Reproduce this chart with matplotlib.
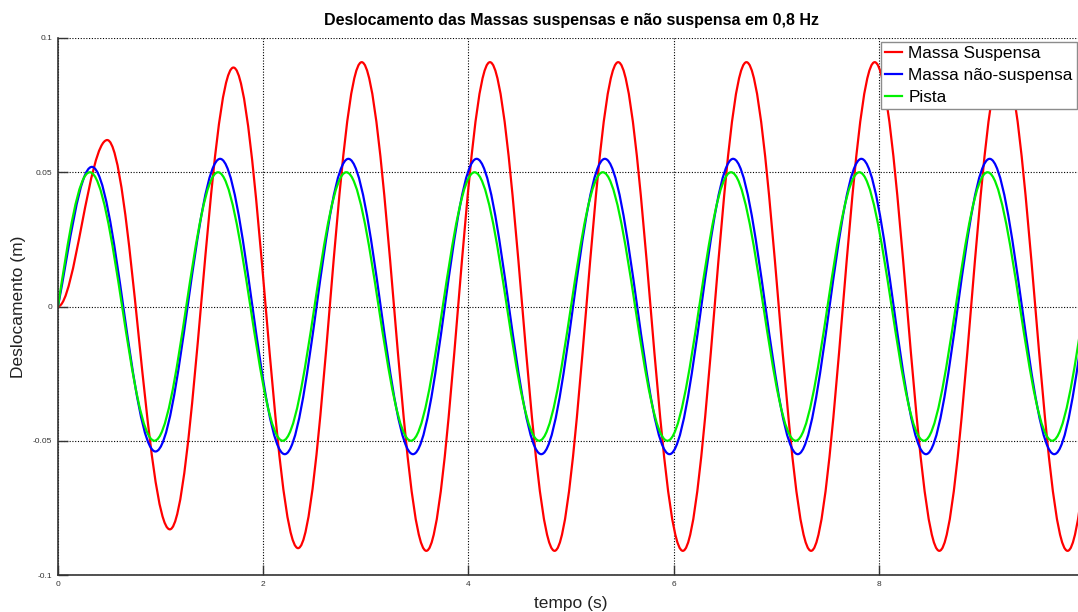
import matplotlib.pyplot as plt
from matplotlib.path import Path
from matplotlib.patches import PathPatch
from matplotlib.lines import Line2D
from matplotlib.ticker import FixedLocator, FuncFormatter

plt.rcParams['font.family'] = ['Liberation Sans', 'DejaVu Sans']
plt.rcParams['axes.unicode_minus'] = False

# picos e vales de cada curva: tempo (s) e deslocamento (m)
t_susp = [0.0, 0.48, 1.09, 1.71, 2.34, 2.96, 3.59, 4.21, 4.84, 5.46, 6.09,
          6.71, 7.34, 7.96, 8.59, 9.21, 9.84, 10.46]
y_susp = [0.0, 0.062, -0.083, 0.089, -0.090, 0.091, -0.091, 0.091, -0.091,
          0.091, -0.091, 0.091, -0.091, 0.091, -0.091, 0.091, -0.091, 0.091]

t_nsusp = [0.0, 0.33, 0.95, 1.58, 2.21, 2.83, 3.46, 4.08, 4.71, 5.33, 5.96,
           6.58, 7.21, 7.83, 8.46, 9.08, 9.71, 10.33]
y_nsusp = [0.0, 0.052, -0.054, 0.055, -0.055, 0.055, -0.055, 0.055, -0.055,
           0.055, -0.055, 0.055, -0.055, 0.055, -0.055, 0.055, -0.055, 0.055]

t_pista = [0.0, 0.31, 0.94, 1.56, 2.19, 2.81, 3.44, 4.06, 4.69, 5.31, 5.94,
           6.56, 7.19, 7.81, 8.44, 9.06, 9.69, 10.31]
y_pista = [0.0, 0.05, -0.05, 0.05, -0.05, 0.05, -0.05, 0.05, -0.05,
           0.05, -0.05, 0.05, -0.05, 0.05, -0.05, 0.05, -0.05, 0.05]

# inclinação inicial (m/s) de cada curva em t = 0
v0_susp, v0_nsusp, v0_pista = 0.0, 0.2, 0.25

series = [
    ('Massa Suspensa', t_susp, y_susp, v0_susp, '#ff0000'),
    ('Massa não-suspensa', t_nsusp, y_nsusp, v0_nsusp, '#0000ff'),
    ('Pista', t_pista, y_pista, v0_pista, '#00f000'),
]

yticks = [-0.1, -0.05, 0, 0.05, 0.1]
xticks = [0, 2, 4, 6, 8]


def curva(t, y, v0, k=0.364):
    # bezier cubica entre extremos, tangente horizontal nos picos
    verts = [(t[0], y[0])]
    codes = [Path.MOVETO]
    for i in range(1, len(t)):
        dt = t[i] - t[i - 1]
        if i == 1:
            c1 = (t[0] + dt / 3, y[0] + v0 * dt / 3)
        else:
            c1 = (t[i - 1] + k * dt, y[i - 1])
        c2 = (t[i] - k * dt, y[i])
        verts += [c1, c2, (t[i], y[i])]
        codes += [Path.CURVE4] * 3
    return Path(verts, codes)


fig = plt.figure(figsize=(10.78, 6.12), dpi=100)
ax = fig.add_axes([58 / 1078, 1 - 575 / 612, 1026 / 1078, 537 / 612])

handles = []
for nome, t, y, v0, cor in series:
    ax.add_patch(PathPatch(curva(t, y, v0), fill=False, edgecolor=cor,
                           lw=1.6, capstyle='round', joinstyle='round'))
    handles.append(Line2D([], [], color=cor, lw=1.6, label=nome))

ax.set_xlim(0, 10)
ax.set_ylim(-0.1, 0.1)
ax.xaxis.set_major_locator(FixedLocator(xticks))
ax.yaxis.set_major_locator(FixedLocator(yticks))
ax.yaxis.set_major_formatter(FuncFormatter(lambda v, p: '%g' % v))
ax.xaxis.set_major_formatter(FuncFormatter(lambda v, p: '%g' % v))

ax.set_axisbelow(True)
ax.grid(True, color='black', linestyle=(0, (1, 1.5)), linewidth=0.8)
for s in ['top', 'right']:
    ax.spines[s].set_visible(False)
for s in ['left', 'bottom']:
    ax.spines[s].set_color('#333333')
    ax.spines[s].set_linewidth(1.2)
ax.tick_params(direction='in', length=7, width=1, color='#333333',
               labelsize=6, labelcolor='#333333', pad=4)

ax.set_title('Deslocamento das Massas suspensas e não suspensa em 0,8 Hz',
             fontsize=11.5, fontweight='bold', pad=9)
ax.set_xlabel('tempo (s)', fontsize=12.5, color='#222222', labelpad=6)
ax.set_ylabel('Deslocamento (m)', fontsize=12.5, color='#222222', labelpad=5)

leg = ax.legend(handles=handles, loc='upper right',
                bbox_to_anchor=(1077 / 1078, 1 - 42 / 612),
                bbox_transform=fig.transFigure, borderaxespad=0,
                fontsize=12.4, fancybox=False, framealpha=1,
                edgecolor='#8c8c8c', borderpad=0.25, labelspacing=0.38,
                handlelength=1.0, handletextpad=0.35)
leg.get_frame().set_linewidth(1.0)

fig.savefig('out.png', dpi=100)
